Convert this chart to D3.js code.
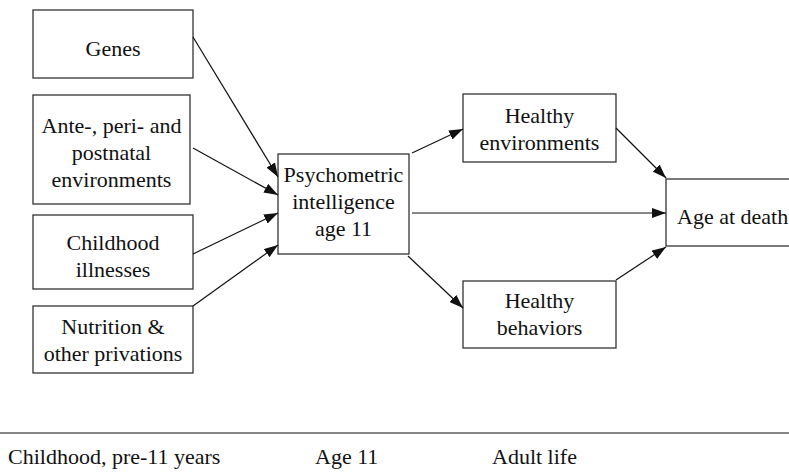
<!DOCTYPE html>
<html lang="en">
<head>
<meta charset="UTF-8">
<title>Intelligence and age at death</title>
<style>
  body { margin: 0; background: #fff; }
  svg { display: block; font-family: "Liberation Serif", "Times New Roman", Times, "DejaVu Serif", serif; }
  svg text { fill: #111; }
  .box { fill: none; stroke: #222; stroke-width: 1.2; }
  .link { stroke: #111; stroke-width: 1.2; fill: none; }
</style>
</head>
<body>
<svg width="789" height="473"></svg>
<script src="https://d3js.org/d3.v7.min.js"></script>
<script>

// node ids and their text lines
var nodeIds = ["genes", "ante", "ill", "nutr", "iq", "env", "beh", "death"];
var nodeLines = [
    ["Genes"],
    ["Ante-, peri- and", "postnatal", "environments"],
    ["Childhood", "illnesses"],
    ["Nutrition &", "other privations"],
    ["Psychometric", "intelligence", "age 11"],
    ["Healthy", "environments"],
    ["Healthy", "behaviors"],
    ["Age at death"]
];
var edgeFrom = ["genes", "ante", "ill", "nutr", "iq", "iq", "iq", "env", "beh"];
var edgeTo   = ["iq", "iq", "iq", "iq", "env", "death", "beh", "death", "death"];
var stageLabels = ["Childhood, pre-11 years", "Age 11", "Adult life"];

// layout (pixel positions of boxes, edge anchors, stage labels)
var boxes = {
    genes: {x0: 33, x1: 193, y0: 10, y1: 78, dy: 5},
    ante:  {x0: 33, x1: 190, y0: 95, y1: 204, dy: 3},
    ill:   {x0: 33, x1: 193, y0: 215, y1: 289, dy: 4},
    nutr:  {x0: 33, x1: 193, y0: 306, y1: 373, dy: 1},
    iq:    {x0: 278, x1: 409, y0: 154, y1: 254, dy: -2},
    env:   {x0: 463, x1: 616, y0: 94, y1: 162, dy: 1},
    beh:   {x0: 463, x1: 616, y0: 281, y1: 348, dy: 0},
    death: {x0: 666, x1: 800, y0: 179, y1: 246, dy: 4, textX: 677, anchor: "start"}
};
var anchors = [
    [[193, 37], [278, 177]],
    [[193, 148], [278, 195]],
    [[193, 254], [278, 213]],
    [[193, 306], [278, 245]],
    [[412, 153], [463, 129]],
    [[412, 213], [666, 213]],
    [[408, 256], [463, 308]],
    [[616, 128], [666, 178]],
    [[616, 280], [666, 247]]
];
var stageX = [8, 315, 492];

var svg = d3.select("svg");

svg.append("defs").append("marker")
    .attr("id", "arrow")
    .attr("markerUnits", "userSpaceOnUse")
    .attr("viewBox", "0 0 14 10")
    .attr("markerWidth", 14)
    .attr("markerHeight", 10)
    .attr("refX", 14)
    .attr("refY", 5)
    .attr("orient", "auto")
  .append("path")
    .attr("d", "M0,0 L14,5 L0,10 Z")
    .attr("fill", "#111");

var nodes = nodeIds.map(function(id, i) {
    return {id: id, lines: nodeLines[i], b: boxes[id]};
});

var node = svg.selectAll(".node")
    .data(nodes)
    .enter().append("g")
    .attr("class", "node");

node.append("rect")
    .attr("class", "box")
    .attr("x", function(d) { return d.b.x0; })
    .attr("y", function(d) { return d.b.y0; })
    .attr("width", function(d) { return d.b.x1 - d.b.x0; })
    .attr("height", function(d) { return d.b.y1 - d.b.y0; });

var lineH = 27;
node.append("text")
    .attr("font-size", 22)
    .attr("text-anchor", function(d) { return d.b.anchor || "middle"; })
    .each(function(d) {
        var cx = d.b.textX != null ? d.b.textX : (d.b.x0 + d.b.x1) / 2;
        var cy = (d.b.y0 + d.b.y1) / 2 + d.b.dy;
        var n = d.lines.length;
        d3.select(this).selectAll("tspan")
            .data(d.lines)
            .enter().append("tspan")
            .attr("x", cx)
            .attr("y", function(l, i) { return cy + (i - (n - 1) / 2) * lineH; })
            .attr("dy", "0.33em")
            .text(function(l) { return l; });
    });

var links = edgeFrom.map(function(f, i) {
    return {source: f, target: edgeTo[i], pts: anchors[i]};
});

svg.selectAll(".link")
    .data(links)
    .enter().append("line")
    .attr("class", "link")
    .attr("x1", function(d) { return d.pts[0][0]; })
    .attr("y1", function(d) { return d.pts[0][1]; })
    .attr("x2", function(d) { return d.pts[1][0]; })
    .attr("y2", function(d) { return d.pts[1][1]; })
    .attr("marker-end", "url(#arrow)");

// timeline rule and stage labels
svg.append("line")
    .attr("x1", 0).attr("x2", 789)
    .attr("y1", 433).attr("y2", 433)
    .attr("stroke", "#111")
    .attr("stroke-width", 1.2);

svg.selectAll(".stage")
    .data(stageLabels)
    .enter().append("text")
    .attr("class", "stage")
    .attr("font-size", 22)
    .attr("x", function(d, i) { return stageX[i]; })
    .attr("y", 464)
    .text(function(d) { return d; });

</script>
</body>
</html>
